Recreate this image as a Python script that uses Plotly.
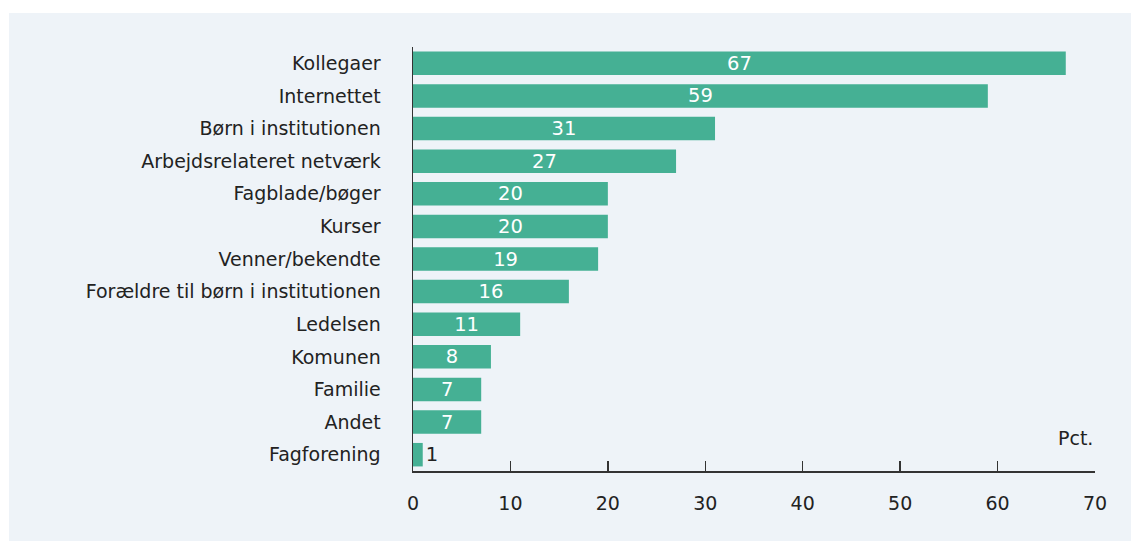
import plotly.graph_objects as go

categories = ["Kollegaer", "Internettet", "Børn i institutionen", "Arbejdsrelateret netværk",
              "Fagblade/bøger", "Kurser", "Venner/bekendte", "Forældre til børn i institutionen",
              "Ledelsen", "Komunen", "Familie", "Andet", "Fagforening"]
values = [67, 59, 31, 27, 20, 20, 19, 16, 11, 8, 7, 7, 1]
x_ticks = [0, 10, 20, 30, 40, 50, 60, 70]
unit_label = "Pct."

BAR = "#45b094"
PANEL = "#eef3f8"
TXT = "#222222"
FONT = "DejaVu Sans"

positions = ["inside" if v >= 3 else "outside" for v in values]
text_colors = ["white" if v >= 3 else TXT for v in values]

fig = go.Figure(go.Bar(
    x=values, y=categories, orientation="h",
    marker=dict(color=BAR, line=dict(width=0)),
    text=[str(v) for v in values],
    textposition=positions,
    textangle=0,
    insidetextanchor="middle",
    textfont=dict(family=FONT, size=19.5, color=text_colors),
    cliponaxis=False,
    hoverinfo="skip",
))

W, H = 1131, 541
L, R, T, B = 412.5, W - 1095.3, 47, H - 471
pw, ph = W - L - R, H - T - B

fig.add_shape(type="rect", xref="paper", yref="paper",
              x0=(8 - L) / pw, x1=1.2, y0=-0.4, y1=(H - B - 13) / ph,
              fillcolor=PANEL, line=dict(width=0), layer="below")

fig.add_annotation(x=70, y=0, xref="x", yref="paper", text=unit_label,
                   showarrow=False, xanchor="right", yanchor="bottom", yshift=20,
                   font=dict(family=FONT, size=19, color=TXT))

fig.update_layout(
    width=W, height=H,
    margin=dict(l=L, r=R, t=T, b=B, pad=0),
    paper_bgcolor="white", plot_bgcolor="rgba(0,0,0,0)",
    bargap=0.28, showlegend=False,
    uniformtext=dict(minsize=19.5, mode="show"),
    font=dict(family=FONT, color=TXT),
    xaxis=dict(range=[0, 70], tickvals=x_ticks, ticks="inside", ticklen=10,
               tickwidth=1.5, tickcolor="#333", showline=True, linecolor="#333",
               linewidth=1.5, showgrid=False, zeroline=False,
               tickfont=dict(family=FONT, size=19, color=TXT), ticklabelstandoff=15,
               fixedrange=True),
    yaxis=dict(autorange="reversed", showline=True, linecolor="#333", linewidth=1.5,
               ticks="", showgrid=False, zeroline=False,
               tickfont=dict(family=FONT, size=19, color=TXT), ticklabelstandoff=27,
               fixedrange=True),
)

fig.write_html("out.html",
               config={"displayModeBar": False, "staticPlot": True},
               post_script="document.body.style.margin='0';"
                           "document.documentElement.style.overflow='hidden';")
